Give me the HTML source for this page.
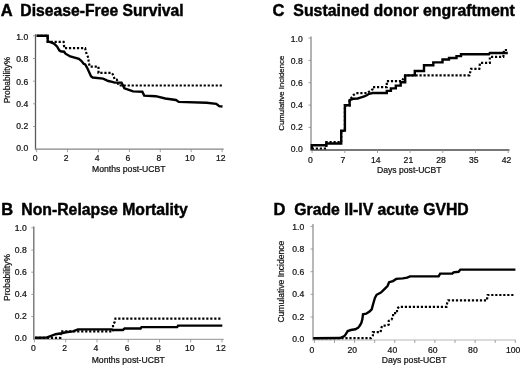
<!DOCTYPE html>
<html><head><meta charset="utf-8"><title>Figure</title>
<style>
html,body{margin:0;padding:0;background:#fff;width:520px;height:366px;overflow:hidden}
svg{display:block;will-change:transform;font-family:"Liberation Sans",sans-serif}
</style></head><body>
<svg width="520" height="366" viewBox="0 0 520 366">
<rect width="520" height="366" fill="#fff"/>
<text x="0.7" y="15.7" font-size="16.5" font-weight="bold" fill="#000" stroke="#000" stroke-width="0.45">A</text>
<text x="20.3" y="15.7" font-size="16.5" font-weight="bold" fill="#000" stroke="#000" stroke-width="0.45" textLength="163.4" lengthAdjust="spacingAndGlyphs">Disease-Free Survival</text>
<line x1="35.5" y1="34.2" x2="35.5" y2="149.7" stroke="#5a5a5a" stroke-width="1.3"/>
<line x1="35.0" y1="149.2" x2="223.7" y2="149.2" stroke="#858585" stroke-width="1.3"/>
<line x1="33.0" y1="126.5" x2="35.5" y2="126.5" stroke="#8a8a8a" stroke-width="0.8"/>
<line x1="33.0" y1="103.8" x2="35.5" y2="103.8" stroke="#8a8a8a" stroke-width="0.8"/>
<line x1="33.0" y1="81.2" x2="35.5" y2="81.2" stroke="#8a8a8a" stroke-width="0.8"/>
<line x1="33.0" y1="58.5" x2="35.5" y2="58.5" stroke="#8a8a8a" stroke-width="0.8"/>
<line x1="33.0" y1="35.8" x2="35.5" y2="35.8" stroke="#8a8a8a" stroke-width="0.8"/>
<line x1="36.6" y1="149.2" x2="36.6" y2="152.2" stroke="#8a8a8a" stroke-width="0.8"/>
<line x1="67.5" y1="149.2" x2="67.5" y2="152.2" stroke="#8a8a8a" stroke-width="0.8"/>
<line x1="98.4" y1="149.2" x2="98.4" y2="152.2" stroke="#8a8a8a" stroke-width="0.8"/>
<line x1="129.4" y1="149.2" x2="129.4" y2="152.2" stroke="#8a8a8a" stroke-width="0.8"/>
<line x1="160.3" y1="149.2" x2="160.3" y2="152.2" stroke="#8a8a8a" stroke-width="0.8"/>
<line x1="191.2" y1="149.2" x2="191.2" y2="152.2" stroke="#8a8a8a" stroke-width="0.8"/>
<line x1="222.1" y1="149.2" x2="222.1" y2="152.2" stroke="#8a8a8a" stroke-width="0.8"/>
<text x="28.2" y="40.0" font-size="8.6" text-anchor="end" fill="#111" stroke="#111" stroke-width="0.22">1.0</text>
<text x="28.2" y="62.2" font-size="8.6" text-anchor="end" fill="#111" stroke="#111" stroke-width="0.22">0.8</text>
<text x="28.2" y="84.5" font-size="8.6" text-anchor="end" fill="#111" stroke="#111" stroke-width="0.22">0.6</text>
<text x="28.2" y="106.8" font-size="8.6" text-anchor="end" fill="#111" stroke="#111" stroke-width="0.22">0.4</text>
<text x="28.2" y="129.1" font-size="8.6" text-anchor="end" fill="#111" stroke="#111" stroke-width="0.22">0.2</text>
<text x="28.2" y="151.4" font-size="8.6" text-anchor="end" fill="#111" stroke="#111" stroke-width="0.22">0.0</text>
<text x="35.2" y="161.4" font-size="8.6" text-anchor="middle" fill="#111" stroke="#111" stroke-width="0.22">0</text>
<text x="66.1" y="161.4" font-size="8.6" text-anchor="middle" fill="#111" stroke="#111" stroke-width="0.22">2</text>
<text x="97.1" y="161.4" font-size="8.6" text-anchor="middle" fill="#111" stroke="#111" stroke-width="0.22">4</text>
<text x="128.0" y="161.4" font-size="8.6" text-anchor="middle" fill="#111" stroke="#111" stroke-width="0.22">6</text>
<text x="159.0" y="161.4" font-size="8.6" text-anchor="middle" fill="#111" stroke="#111" stroke-width="0.22">8</text>
<text x="189.9" y="161.4" font-size="8.6" text-anchor="middle" fill="#111" stroke="#111" stroke-width="0.22">10</text>
<text x="220.8" y="161.4" font-size="8.6" text-anchor="middle" fill="#111" stroke="#111" stroke-width="0.22">12</text>
<text x="92.0" y="172.0" font-size="8.6" fill="#111" stroke="#111" stroke-width="0.22" textLength="73.6" lengthAdjust="spacingAndGlyphs">Months post-UCBT</text>
<text transform="translate(10.4,80.15) rotate(-90)" x="0" y="0" font-size="8.6" text-anchor="middle" fill="#111" stroke="#111" stroke-width="0.22" textLength="46.4" lengthAdjust="spacingAndGlyphs">Probability%</text>
<polyline points="36.7,35.8 47.7,35.8 47.7,41.9 63.6,41.9 64.3,48.2 85.1,48.2 86.6,54.1 88.0,57.0 89.0,63.7 89.9,66.6 98.5,66.6 98.5,72.9 111.7,72.9 113.4,75.2 114.6,79.5 116.9,79.8 118.6,85.5 222.5,85.5" fill="none" stroke="#000" stroke-width="2.2" stroke-dasharray="2.2 1.8" stroke-linecap="butt"/>
<polyline points="36.7,35.8 47.7,35.8 47.7,41.5 50.5,42.2 54.0,43.6 57.0,46.5 59.3,50.3 60.7,51.3 64.1,51.7 65.5,53.7 70.3,56.5 78.9,58.9 81.3,60.8 83.7,63.7 85.2,64.5 87.5,68.5 91.0,76.3 92.7,77.5 103.1,78.6 108.3,81.0 112.3,81.8 114.6,82.6 121.5,82.6 124.4,88.4 129.6,90.2 133.1,91.4 142.3,91.7 144.2,95.6 155.7,96.2 165.3,98.5 175.9,100.0 178.8,101.9 206.7,102.7 216.3,103.8 219.2,106.2 222.5,106.5" fill="none" stroke="#000" stroke-width="2.4" stroke-linejoin="miter" stroke-linecap="butt"/>
<text x="1.2" y="215.4" font-size="16.5" font-weight="bold" fill="#000" stroke="#000" stroke-width="0.45">B</text>
<text x="21.3" y="215.4" font-size="16.5" font-weight="bold" fill="#000" stroke="#000" stroke-width="0.45" textLength="166.6" lengthAdjust="spacingAndGlyphs">Non-Relapse Mortality</text>
<line x1="33.8" y1="226.4" x2="33.8" y2="339.9" stroke="#6a6a6a" stroke-width="1.3"/>
<line x1="33.3" y1="339.4" x2="223.7" y2="339.4" stroke="#a8a8a8" stroke-width="1.3"/>
<line x1="31.299999999999997" y1="316.6" x2="33.8" y2="316.6" stroke="#8a8a8a" stroke-width="0.8"/>
<line x1="31.299999999999997" y1="294.4" x2="33.8" y2="294.4" stroke="#8a8a8a" stroke-width="0.8"/>
<line x1="31.299999999999997" y1="272.2" x2="33.8" y2="272.2" stroke="#8a8a8a" stroke-width="0.8"/>
<line x1="31.299999999999997" y1="250.0" x2="33.8" y2="250.0" stroke="#8a8a8a" stroke-width="0.8"/>
<line x1="31.299999999999997" y1="227.8" x2="33.8" y2="227.8" stroke="#8a8a8a" stroke-width="0.8"/>
<line x1="34.4" y1="339.4" x2="34.4" y2="342.4" stroke="#8a8a8a" stroke-width="0.8"/>
<line x1="65.7" y1="339.4" x2="65.7" y2="342.4" stroke="#8a8a8a" stroke-width="0.8"/>
<line x1="97.0" y1="339.4" x2="97.0" y2="342.4" stroke="#8a8a8a" stroke-width="0.8"/>
<line x1="128.2" y1="339.4" x2="128.2" y2="342.4" stroke="#8a8a8a" stroke-width="0.8"/>
<line x1="159.5" y1="339.4" x2="159.5" y2="342.4" stroke="#8a8a8a" stroke-width="0.8"/>
<line x1="190.7" y1="339.4" x2="190.7" y2="342.4" stroke="#8a8a8a" stroke-width="0.8"/>
<line x1="222.0" y1="339.4" x2="222.0" y2="342.4" stroke="#8a8a8a" stroke-width="0.8"/>
<text x="26.8" y="231.3" font-size="8.6" text-anchor="end" fill="#111" stroke="#111" stroke-width="0.22">1.0</text>
<text x="26.8" y="253.3" font-size="8.6" text-anchor="end" fill="#111" stroke="#111" stroke-width="0.22">0.8</text>
<text x="26.8" y="275.2" font-size="8.6" text-anchor="end" fill="#111" stroke="#111" stroke-width="0.22">0.6</text>
<text x="26.8" y="297.2" font-size="8.6" text-anchor="end" fill="#111" stroke="#111" stroke-width="0.22">0.4</text>
<text x="26.8" y="319.1" font-size="8.6" text-anchor="end" fill="#111" stroke="#111" stroke-width="0.22">0.2</text>
<text x="26.8" y="341.1" font-size="8.6" text-anchor="end" fill="#111" stroke="#111" stroke-width="0.22">0.0</text>
<text x="33.4" y="350.9" font-size="8.6" text-anchor="middle" fill="#111" stroke="#111" stroke-width="0.22">0</text>
<text x="64.6" y="350.9" font-size="8.6" text-anchor="middle" fill="#111" stroke="#111" stroke-width="0.22">2</text>
<text x="95.9" y="350.9" font-size="8.6" text-anchor="middle" fill="#111" stroke="#111" stroke-width="0.22">4</text>
<text x="127.1" y="350.9" font-size="8.6" text-anchor="middle" fill="#111" stroke="#111" stroke-width="0.22">6</text>
<text x="158.4" y="350.9" font-size="8.6" text-anchor="middle" fill="#111" stroke="#111" stroke-width="0.22">8</text>
<text x="189.7" y="350.9" font-size="8.6" text-anchor="middle" fill="#111" stroke="#111" stroke-width="0.22">10</text>
<text x="220.9" y="350.9" font-size="8.6" text-anchor="middle" fill="#111" stroke="#111" stroke-width="0.22">12</text>
<text x="91.7" y="362.8" font-size="8.6" fill="#111" stroke="#111" stroke-width="0.22" textLength="73.2" lengthAdjust="spacingAndGlyphs">Months post-UCBT</text>
<text transform="translate(9.7,277.5) rotate(-90)" x="0" y="0" font-size="8.6" text-anchor="middle" fill="#111" stroke="#111" stroke-width="0.22" textLength="46.8" lengthAdjust="spacingAndGlyphs">Probability%</text>
<polyline points="34.9,337.8 60.3,337.8 61.0,331.4 113.0,331.4 113.0,325.0 114.8,321.8 115.4,318.6 221.9,318.6" fill="none" stroke="#000" stroke-width="2.2" stroke-dasharray="2.2 1.8" stroke-linecap="butt"/>
<polyline points="34.9,337.8 46.4,337.6 51.2,335.8 55.6,334.2 61.6,333.2 66.0,332.3 72.9,331.4 77.9,329.4 111.9,329.4 113.0,330.0 122.9,330.0 124.6,328.5 140.6,328.5 141.5,327.1 177.1,327.1 178.1,325.6 222.3,325.6" fill="none" stroke="#000" stroke-width="2.4" stroke-linejoin="miter" stroke-linecap="butt"/>
<text x="272.6" y="15.7" font-size="16.5" font-weight="bold" fill="#000" stroke="#000" stroke-width="0.45">C</text>
<text x="293.3" y="15.7" font-size="16.5" font-weight="bold" fill="#000" stroke="#000" stroke-width="0.45" textLength="221.5" lengthAdjust="spacingAndGlyphs">Sustained donor engraftment</text>
<line x1="311.0" y1="36.6" x2="311.0" y2="150.5" stroke="#8a8a8a" stroke-width="1.3"/>
<line x1="310.5" y1="150.0" x2="509.5" y2="150.0" stroke="#4a4a4a" stroke-width="1.3"/>
<line x1="308.5" y1="127.4" x2="311.0" y2="127.4" stroke="#8a8a8a" stroke-width="0.8"/>
<line x1="308.5" y1="105.1" x2="311.0" y2="105.1" stroke="#8a8a8a" stroke-width="0.8"/>
<line x1="308.5" y1="82.7" x2="311.0" y2="82.7" stroke="#8a8a8a" stroke-width="0.8"/>
<line x1="308.5" y1="60.4" x2="311.0" y2="60.4" stroke="#8a8a8a" stroke-width="0.8"/>
<line x1="308.5" y1="38.0" x2="311.0" y2="38.0" stroke="#8a8a8a" stroke-width="0.8"/>
<line x1="312.1" y1="150.0" x2="312.1" y2="153.0" stroke="#8a8a8a" stroke-width="0.8"/>
<line x1="344.8" y1="150.0" x2="344.8" y2="153.0" stroke="#8a8a8a" stroke-width="0.8"/>
<line x1="377.5" y1="150.0" x2="377.5" y2="153.0" stroke="#8a8a8a" stroke-width="0.8"/>
<line x1="410.1" y1="150.0" x2="410.1" y2="153.0" stroke="#8a8a8a" stroke-width="0.8"/>
<line x1="442.8" y1="150.0" x2="442.8" y2="153.0" stroke="#8a8a8a" stroke-width="0.8"/>
<line x1="475.5" y1="150.0" x2="475.5" y2="153.0" stroke="#8a8a8a" stroke-width="0.8"/>
<line x1="508.2" y1="150.0" x2="508.2" y2="153.0" stroke="#8a8a8a" stroke-width="0.8"/>
<text x="302.8" y="41.9" font-size="8.6" text-anchor="end" fill="#111" stroke="#111" stroke-width="0.22">1.0</text>
<text x="302.8" y="63.9" font-size="8.6" text-anchor="end" fill="#111" stroke="#111" stroke-width="0.22">0.8</text>
<text x="302.8" y="86.0" font-size="8.6" text-anchor="end" fill="#111" stroke="#111" stroke-width="0.22">0.6</text>
<text x="302.8" y="108.1" font-size="8.6" text-anchor="end" fill="#111" stroke="#111" stroke-width="0.22">0.4</text>
<text x="302.8" y="130.1" font-size="8.6" text-anchor="end" fill="#111" stroke="#111" stroke-width="0.22">0.2</text>
<text x="302.8" y="152.2" font-size="8.6" text-anchor="end" fill="#111" stroke="#111" stroke-width="0.22">0.0</text>
<text x="310.3" y="162.8" font-size="8.6" text-anchor="middle" fill="#111" stroke="#111" stroke-width="0.22">0</text>
<text x="343.0" y="162.8" font-size="8.6" text-anchor="middle" fill="#111" stroke="#111" stroke-width="0.22">7</text>
<text x="375.7" y="162.8" font-size="8.6" text-anchor="middle" fill="#111" stroke="#111" stroke-width="0.22">14</text>
<text x="408.4" y="162.8" font-size="8.6" text-anchor="middle" fill="#111" stroke="#111" stroke-width="0.22">21</text>
<text x="441.1" y="162.8" font-size="8.6" text-anchor="middle" fill="#111" stroke="#111" stroke-width="0.22">28</text>
<text x="473.8" y="162.8" font-size="8.6" text-anchor="middle" fill="#111" stroke="#111" stroke-width="0.22">35</text>
<text x="506.5" y="162.8" font-size="8.6" text-anchor="middle" fill="#111" stroke="#111" stroke-width="0.22">42</text>
<text x="377.0" y="173.2" font-size="8.6" fill="#111" stroke="#111" stroke-width="0.22" textLength="64.6" lengthAdjust="spacingAndGlyphs">Days post-UCBT</text>
<text transform="translate(283.6,93.2) rotate(-90)" x="0" y="0" font-size="8.0" text-anchor="middle" fill="#111" stroke="#111" stroke-width="0.22" textLength="75.0" lengthAdjust="spacingAndGlyphs">Cumulative Incidence</text>
<polyline points="311.8,148.5 326.3,148.5 326.3,142.2 341.2,142.2 341.2,131.0 344.9,131.0 344.9,105.4 349.6,105.4 349.6,100.1 352.0,97.0 353.7,94.9 356.0,93.2 366.8,93.2 372.5,89.3 372.5,87.2 386.8,87.2 386.8,81.1 402.0,81.1 405.2,75.3 469.5,75.3 471.0,68.8 479.3,68.8 480.0,62.8 489.8,62.8 489.8,56.8 503.3,56.8 504.0,50.0 507.8,50.0" fill="none" stroke="#000" stroke-width="2.2" stroke-dasharray="2.2 1.8" stroke-linecap="butt"/>
<polyline points="311.8,149.5 311.8,145.2 326.3,145.2 326.3,143.5 341.2,143.5 341.2,130.6 344.9,130.6 344.9,105.2 349.6,105.2 349.6,100.1 353.1,98.8 357.7,98.5 359.6,97.8 364.2,96.5 366.8,95.2 369.1,93.8 372.6,93.0 386.8,93.0 386.8,90.9 390.9,90.9 390.9,88.4 395.8,88.4 395.8,85.6 400.7,85.6 400.7,82.3 405.2,82.3 405.2,75.4 414.8,75.4 414.8,71.0 424.0,71.0 424.0,65.3 433.3,65.3 433.3,62.4 442.5,62.4 442.5,59.5 449.0,59.5 449.0,58.0 456.5,58.0 456.5,56.1 461.0,56.1 461.0,54.3 489.0,54.3 489.8,53.0 507.8,53.0" fill="none" stroke="#000" stroke-width="2.4" stroke-linejoin="miter" stroke-linecap="butt"/>
<text x="273.6" y="215.4" font-size="16.5" font-weight="bold" fill="#000" stroke="#000" stroke-width="0.45">D</text>
<text x="294.3" y="215.4" font-size="16.5" font-weight="bold" fill="#000" stroke="#000" stroke-width="0.45" textLength="174.4" lengthAdjust="spacingAndGlyphs">Grade II-IV acute GVHD</text>
<line x1="313.0" y1="224.1" x2="313.0" y2="340.5" stroke="#939393" stroke-width="1.3"/>
<line x1="312.5" y1="340.0" x2="515.6" y2="340.0" stroke="#cfcfcf" stroke-width="1.3"/>
<line x1="310.5" y1="317.0" x2="313.0" y2="317.0" stroke="#8a8a8a" stroke-width="0.8"/>
<line x1="310.5" y1="294.3" x2="313.0" y2="294.3" stroke="#8a8a8a" stroke-width="0.8"/>
<line x1="310.5" y1="271.7" x2="313.0" y2="271.7" stroke="#8a8a8a" stroke-width="0.8"/>
<line x1="310.5" y1="249.0" x2="313.0" y2="249.0" stroke="#8a8a8a" stroke-width="0.8"/>
<line x1="310.5" y1="226.4" x2="313.0" y2="226.4" stroke="#8a8a8a" stroke-width="0.8"/>
<line x1="314.4" y1="340.0" x2="314.4" y2="343.0" stroke="#8a8a8a" stroke-width="0.8"/>
<line x1="334.5" y1="340.0" x2="334.5" y2="343.0" stroke="#8a8a8a" stroke-width="0.8"/>
<line x1="354.6" y1="340.0" x2="354.6" y2="343.0" stroke="#8a8a8a" stroke-width="0.8"/>
<line x1="374.7" y1="340.0" x2="374.7" y2="343.0" stroke="#8a8a8a" stroke-width="0.8"/>
<line x1="394.8" y1="340.0" x2="394.8" y2="343.0" stroke="#8a8a8a" stroke-width="0.8"/>
<line x1="414.8" y1="340.0" x2="414.8" y2="343.0" stroke="#8a8a8a" stroke-width="0.8"/>
<line x1="434.9" y1="340.0" x2="434.9" y2="343.0" stroke="#8a8a8a" stroke-width="0.8"/>
<line x1="455.0" y1="340.0" x2="455.0" y2="343.0" stroke="#8a8a8a" stroke-width="0.8"/>
<line x1="475.1" y1="340.0" x2="475.1" y2="343.0" stroke="#8a8a8a" stroke-width="0.8"/>
<line x1="495.2" y1="340.0" x2="495.2" y2="343.0" stroke="#8a8a8a" stroke-width="0.8"/>
<line x1="515.3" y1="340.0" x2="515.3" y2="343.0" stroke="#8a8a8a" stroke-width="0.8"/>
<text x="304.2" y="229.8" font-size="8.6" text-anchor="end" fill="#111" stroke="#111" stroke-width="0.22">1.0</text>
<text x="304.2" y="252.3" font-size="8.6" text-anchor="end" fill="#111" stroke="#111" stroke-width="0.22">0.8</text>
<text x="304.2" y="274.8" font-size="8.6" text-anchor="end" fill="#111" stroke="#111" stroke-width="0.22">0.6</text>
<text x="304.2" y="297.3" font-size="8.6" text-anchor="end" fill="#111" stroke="#111" stroke-width="0.22">0.4</text>
<text x="304.2" y="319.8" font-size="8.6" text-anchor="end" fill="#111" stroke="#111" stroke-width="0.22">0.2</text>
<text x="304.2" y="342.3" font-size="8.6" text-anchor="end" fill="#111" stroke="#111" stroke-width="0.22">0.0</text>
<text x="311.9" y="352.7" font-size="8.6" text-anchor="middle" fill="#111" stroke="#111" stroke-width="0.22">0</text>
<text x="352.2" y="352.7" font-size="8.6" text-anchor="middle" fill="#111" stroke="#111" stroke-width="0.22">20</text>
<text x="392.4" y="352.7" font-size="8.6" text-anchor="middle" fill="#111" stroke="#111" stroke-width="0.22">40</text>
<text x="432.7" y="352.7" font-size="8.6" text-anchor="middle" fill="#111" stroke="#111" stroke-width="0.22">60</text>
<text x="472.9" y="352.7" font-size="8.6" text-anchor="middle" fill="#111" stroke="#111" stroke-width="0.22">80</text>
<text x="513.2" y="352.7" font-size="8.6" text-anchor="middle" fill="#111" stroke="#111" stroke-width="0.22">100</text>
<text x="381.8" y="363.4" font-size="8.6" fill="#111" stroke="#111" stroke-width="0.22" textLength="64.6" lengthAdjust="spacingAndGlyphs">Days post-UCBT</text>
<text transform="translate(283.6,281.6) rotate(-90)" x="0" y="0" font-size="8.6" text-anchor="middle" fill="#111" stroke="#111" stroke-width="0.22" textLength="82.0" lengthAdjust="spacingAndGlyphs">Cumulative Incidence</text>
<polyline points="313.4,338.2 371.0,338.2 372.9,335.5 372.9,332.2 380.6,332.2 381.1,328.6 382.2,325.7 386.0,325.7 388.8,324.6 388.8,320.8 391.5,319.7 393.1,316.4 393.1,313.1 397.0,313.1 397.0,308.7 399.1,306.8 446.5,306.8 447.1,303.3 448.2,300.4 486.9,300.4 487.7,295.0 513.8,295.0" fill="none" stroke="#000" stroke-width="2.2" stroke-dasharray="2.2 1.8" stroke-linecap="butt"/>
<polyline points="313.4,338.2 340.0,338.0 344.4,336.1 346.0,333.9 347.7,331.1 350.9,330.0 355.3,329.3 358.0,327.9 359.7,325.7 361.3,323.0 362.4,319.1 363.0,314.2 366.2,313.7 369.5,311.5 371.7,309.3 373.3,303.5 374.9,298.0 376.6,294.8 380.9,292.6 384.2,289.3 387.5,286.0 389.1,282.2 393.0,281.1 396.2,278.9 402.8,278.4 407.2,277.6 410.0,276.4 438.6,276.4 440.2,273.6 452.3,273.6 453.6,272.3 458.6,271.8 460.4,269.6 515.4,269.6" fill="none" stroke="#000" stroke-width="2.4" stroke-linejoin="miter" stroke-linecap="butt"/>
</svg>
</body></html>
